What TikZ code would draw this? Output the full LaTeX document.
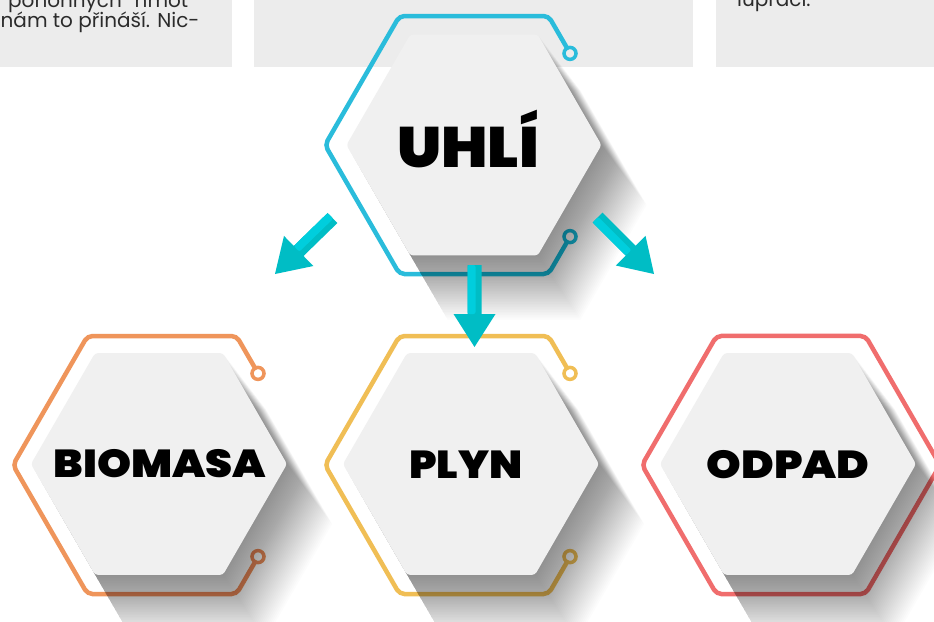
\documentclass[tikz,border=0pt]{standalone}
\usepackage{fontspec}
\setmainfont{Poppins}
\newfontfamily\heavy{Poppins Black}
\usetikzlibrary{calc}
\definecolor{boxgray}{HTML}{ECECEC}
\definecolor{hexfill}{HTML}{F0F0F0}
\definecolor{cyanO}{HTML}{2ABCDB}
\definecolor{orangeO}{HTML}{EF955B}
\definecolor{yellowO}{HTML}{F0BE55}
\definecolor{redO}{HTML}{F06D6D}
\definecolor{arrowD}{HTML}{00BDC5}
\definecolor{arrowL}{HTML}{00CEDD}
\definecolor{txt}{HTML}{2B2B2B}
\newcommand\hexpath[3]{({(#1)+(#3)},{#2}) -- ({(#1)+0.5*(#3)},{(#2)+0.866*(#3)}) -- ({(#1)-0.5*(#3)},{(#2)+0.866*(#3)}) -- ({(#1)-(#3)},{#2}) -- ({(#1)-0.5*(#3)},{(#2)-0.866*(#3)}) -- ({(#1)+0.5*(#3)},{(#2)-0.866*(#3)}) -- cycle}
\newcommand\outl[3]{%
  \draw[outline, #3] ({#1+93},{#2-97}) -- ({#1+74.5},{#2-129}) -- ({#1-74.5},{#2-129}) -- ({#1-149},{#2}) -- ({#1-74.5},{#2+129}) -- ({#1+74.5},{#2+129}) -- ({#1+93},{#2+97});
  \draw[ring, #3] ({#1+96},{#2-91.6}) circle (6);
  \draw[ring, #3] ({#1+96},{#2+91.6}) circle (6);}
\newcommand\hexshadow[3]{\foreach \k in {1,...,40}{\fill[black, opacity=0.0105] \hexpath{#1+\k*1.0}{#2+\k*1.5}{#3*(1+0.001*\k)};}}
\newcommand\bigarrow[2]{%
  \coordinate (#1hb) at ($(#2)!33pt!(#1)$);
  \fill[arrowD] ($(#1)!7pt!90:(#2)$) -- ($(#1hb)!7pt!90:(#2)$) -- ($(#1hb)!21pt!90:(#2)$) -- (#2) -- ($(#1hb)!21pt!-90:(#2)$) -- ($(#1hb)!7pt!-90:(#2)$) -- ($(#1)!7pt!-90:(#2)$) -- cycle;
  \fill[arrowL, rounded corners=2] ($(#1)!7pt!-90:(#2)$) -- ($(#1)!1pt!90:(#2)$) -- ($(#1hb)!1pt!90:(#2)$) -- ($(#1hb)!7pt!-90:(#2)$) -- cycle;}
\tikzset{
  outline/.style={line width=4.5pt, rounded corners=5pt, line cap=round},
  ring/.style={line width=3.5pt},
  body/.style={inner sep=0pt, text=txt, font=\fontsize{20}{20}\selectfont, anchor=base west},
  lab/.style={inner sep=0pt, text=black, anchor=base},
}
\begin{document}
\begin{tikzpicture}[x=1pt,y=-1pt]
\useasboundingbox (0,0) rectangle (934,621);
\clip (0,0) rectangle (934,621);
\fill[white] (0,0) rectangle (934,621);
% top boxes
\fill[boxgray] (0,0) rectangle (232,67);
\fill[boxgray] (254,0) rectangle (693,67);
\fill[boxgray] (716,0) rectangle (934,67);
\node[body] (t1) at (8,7.5) {\makebox[180pt][s]{pohonných\hfill hmot}};
\node[body] (t2) at (0.5,27.5) {nám to přináší. Nic-};
\node[body] (t3) at (737,6) {lupraci.};
% outlines
\outl{474}{145}{cyanO}
\outl{162}{465}{orangeO}
\outl{474}{465}{yellowO}
\draw[outline, redO] \hexpath{791}{465}{149};
% shadows
\hexshadow{474}{145}{127.5}
\hexshadow{159}{464}{128}
\hexshadow{471}{464}{128}
\hexshadow{788}{464}{128}
% inner hexes
\fill[hexfill, rounded corners=3pt] \hexpath{474}{145}{127.5};
\fill[hexfill, rounded corners=3pt] \hexpath{159}{464}{128};
\fill[hexfill, rounded corners=3pt] \hexpath{471}{464}{128};
\fill[hexfill, rounded corners=3pt] \hexpath{788}{464}{128};
% labels
\node[lab, font=\heavy\fontsize{57}{57}\selectfont] (uhli) at (468,167) {\scalebox{1.08}[1]{UHLÍ}};
\node[lab, font=\heavy\fontsize{39}{39}\selectfont] (biomasa) at (160,477) {\scalebox{1.11}[1]{BIOMASA}};
\node[lab, font=\heavy\fontsize{39}{39}\selectfont] (plyn) at (466,478) {\scalebox{1.09}[1]{PLYN}};
\node[lab, font=\heavy\fontsize{39}{39}\selectfont] (odpad) at (788,478) {\scalebox{1.13}[1]{ODPAD}};
% arrows
\coordinate (as) at (332.5,218); \coordinate (ae) at (275,274);
\coordinate (bs) at (474.5,265); \coordinate (be) at (474.5,347);
\coordinate (cs) at (597.5,217.5); \coordinate (ce) at (654,274);
\bigarrow{as}{ae}
\bigarrow{bs}{be}
\bigarrow{cs}{ce}
\end{tikzpicture}
\end{document}
